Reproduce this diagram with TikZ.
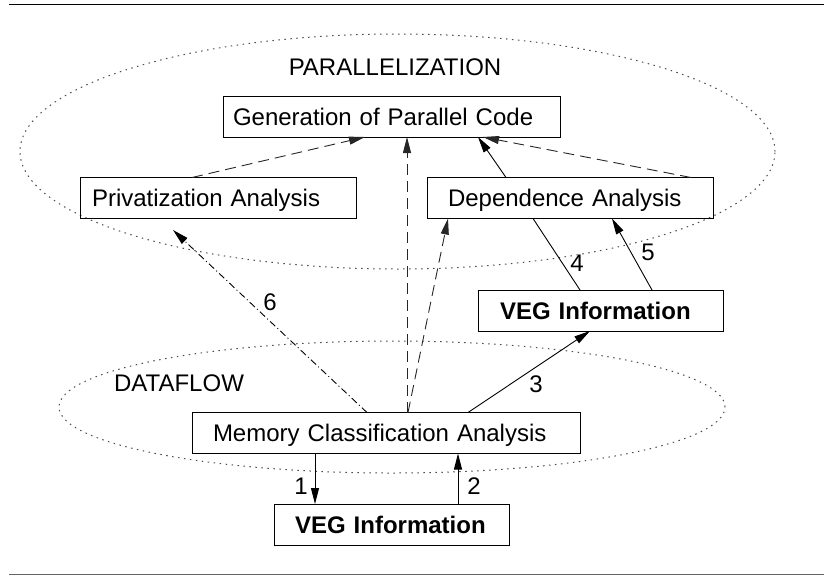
\documentclass[tikz,border=0pt]{standalone}
\usepackage{fontspec}
\setmainfont{Liberation Sans}
\usetikzlibrary{arrows.meta}
\begin{document}
\begin{tikzpicture}[x=1pt,y=-1pt,
  txt/.style={font=\fontsize{24}{28}\selectfont, inner sep=0pt},
  box/.style={draw=black, line width=1pt, rectangle, minimum height=41pt, inner ysep=0pt,
              text height=17.5pt, text depth=0pt, align=left, outer sep=0pt,
              font=\fontsize{24}{28}\selectfont},
  region/.style={draw=black!70, line width=1pt, dash pattern=on 1.5pt off 4.5pt},
  tipa/.style={-{Triangle[length=16pt,width=8pt]}},
  solidline/.style={draw=black, line width=0.9pt},
  dashline/.style={draw=black!85, line width=0.9pt, dash pattern=on 11pt off 6pt},
  dashdotline/.style={draw=black, line width=0.9pt, dash pattern=on 7pt off 3pt on 1pt off 3pt},
  rule/.style={line width=1.3pt}
]
\useasboundingbox (0,0) rectangle (824,576);
% rules
\coordinate (tl) at (9,4.5);
\coordinate (tr) at (824,4.5);
\coordinate (bl) at (9,574.8);
\coordinate (br) at (824,574.8);
\draw[rule, black] (tl) -- (tr);
\draw[rule, black!60] (bl) -- (br);
% regions
\draw[region] (397.5,151.5) ellipse [x radius=377.5pt, y radius=117.5pt];
\draw[region] (392,407) ellipse [x radius=333pt, y radius=66pt];
\node[txt] (par) at (395,67) {PARALLELIZATION};
\node[txt] (dfl) at (179,383.5) {DATAFLOW};
% boxes
\node[box, text width=317pt, inner xsep=10pt] (gen) at (391.5,116.5) {Generation of Parallel Code};
\node[box, text width=252pt, inner xsep=12pt] (priv) at (218,198) {Privatization Analysis};
\node[box, text width=244pt, inner xsep=21pt] (dep) at (570,198) {Dependence Analysis};
\node[box, text width=201pt, inner xsep=22pt] (veg1) at (600.5,310.5) {\bfseries VEG Information};
\node[box, text width=346pt, inner xsep=21pt] (mem) at (386,433) {Memory Classification Analysis};
\node[box, text width=193pt, inner xsep=21pt] (veg2) at (391.5,524.5) {\bfseries VEG Information};
% connectors
\draw[dashline, tipa] ([xshift=112pt]priv.north west) -- ([xshift=142pt]gen.south west);
\draw[dashline, tipa] ([xshift=215pt]mem.north west) -- ([xshift=184pt]gen.south west);
\draw[dashline, tipa] ([xshift=216pt]mem.north west) -- ([xshift=21pt]dep.south west);
\draw[solidline, tipa] ([xshift=79pt]dep.north west) -- ([xshift=255pt]gen.south west);
\draw[dashline, tipa] ([xshift=264pt]dep.north west) -- ([xshift=260pt]gen.south west);
\coordinate (privtip) at (173,230);
\draw[dashdotline, tipa] ([xshift=175pt]mem.north west) -- (privtip);
\draw[solidline, tipa] ([xshift=276pt]mem.north west) -- ([xshift=112pt]veg1.south west);
\draw[solidline] ([xshift=106pt]dep.south west) -- ([xshift=102pt]veg1.north west);
\draw[solidline, tipa] ([xshift=174pt]veg1.north west) -- ([xshift=185pt]dep.south west);
\draw[solidline, tipa] ([xshift=123pt]mem.south west) -- ([xshift=41pt]veg2.north west);
\draw[solidline, tipa] ([xshift=184pt]veg2.north west) -- ([xshift=266pt]mem.south west);
% labels
\node[txt] (l1) at (301,486) {1};
\node[txt] (l2) at (474,486) {2};
\node[txt] (l3) at (536,384) {3};
\node[txt] (l4) at (577,263) {4};
\node[txt] (l5) at (648,252) {5};
\node[txt] (l6) at (270,302) {6};
\end{tikzpicture}
\end{document}
